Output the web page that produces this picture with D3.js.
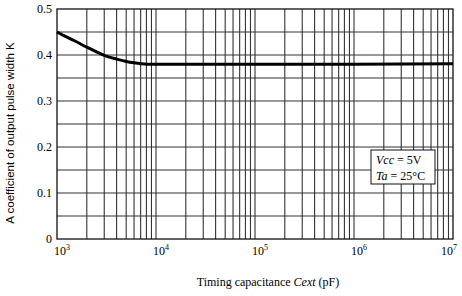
<!DOCTYPE html>
<html><head><meta charset="utf-8">
<script src="https://cdn.jsdelivr.net/npm/d3@7"></script>
<style>body{margin:0;background:#fff}svg{display:block}</style>
</head><body>
<svg id="c" width="462" height="296"></svg>
<script>
const capX = [1000, 1200, 1500, 2000, 2500, 3000, 4000, 5000, 6000, 7000, 8000, 10000, 100000, 1000000, 10000000];
const kY   = [0.45, 0.441, 0.431, 0.417, 0.407, 0.399, 0.391, 0.386, 0.383, 0.381, 0.380, 0.380, 0.380, 0.380, 0.381];
const xTicks = [1e3, 1e4, 1e5, 1e6, 1e7];
const xTickExp = ["3", "4", "5", "6", "7"];
const yTicks = [0, 0.1, 0.2, 0.3, 0.4, 0.5];
const yTickLabels = ["0", "0.1", "0.2", "0.3", "0.4", "0.5"];
const yGrid = [0.05, 0.1, 0.15, 0.2, 0.25, 0.3, 0.35, 0.4, 0.45];

const svg = d3.select("#c");
const L = 57, R = 453, T = 9, B = 239;
const x = d3.scaleLog().domain([1e3, 1e7]).range([L, R]);
const y = d3.scaleLinear().domain([0, 0.5]).range([B, T]);
const serif = "'Liberation Serif', 'DejaVu Serif', serif";

// vertical grid
const vgrid = [];
for (let d = 3; d < 7; d++) for (let m = 2; m <= 9; m++) vgrid.push(m * Math.pow(10, d));
for (let d = 4; d < 7; d++) vgrid.push(Math.pow(10, d));
svg.append("g").selectAll("line").data(vgrid).join("line")
  .attr("x1", d => x(d)).attr("x2", d => x(d)).attr("y1", T).attr("y2", B)
  .attr("stroke", "#333").attr("stroke-width", 1.1);
svg.append("g").selectAll("line").data(yGrid).join("line")
  .attr("x1", L).attr("x2", R).attr("y1", d => y(d)).attr("y2", d => y(d))
  .attr("stroke", "#333").attr("stroke-width", 1.1);

// frame
svg.append("rect").attr("x", L).attr("y", T).attr("width", R - L).attr("height", B - T)
  .attr("fill", "none").attr("stroke", "#111").attr("stroke-width", 1.3);

// curve
svg.append("path").datum(capX.map((c, i) => [c, kY[i]]))
  .attr("d", d3.line().x(d => x(d[0])).y(d => y(d[1])).curve(d3.curveMonotoneX))
  .attr("fill", "none").attr("stroke", "#000").attr("stroke-width", 3);

// y tick labels
svg.append("g").selectAll("text").data(yTicks).join("text")
  .attr("x", L - 5).attr("y", d => y(d) + 4).attr("text-anchor", "end")
  .attr("font-family", serif).attr("font-size", 12).text((d, i) => yTickLabels[i]);

// x tick labels
svg.append("g").selectAll("text").data(xTicks).join("text")
  .attr("x", d => Math.min(x(d) + 5, 449)).attr("y", B + 16).attr("text-anchor", "middle")
  .attr("font-family", serif).attr("font-size", 12)
  .each(function(d, i) {
    const t = d3.select(this);
    t.append("tspan").text("10");
    t.append("tspan").attr("dy", -5).attr("font-size", 8).text(xTickExp[i]);
  });

// axis titles
svg.append("text").attr("x", 268).attr("y", 286).attr("text-anchor", "middle")
  .attr("font-family", serif).attr("font-size", 12)
  .call(t => { t.append("tspan").text("Timing capacitance ");
               t.append("tspan").attr("font-style", "italic").text("Cext");
               t.append("tspan").text(" (pF)"); });
svg.append("text").attr("transform", "translate(14,133) rotate(-90)").attr("text-anchor", "middle")
  .attr("font-family", "'Liberation Sans', Arial, sans-serif").attr("font-size", 11.5)
  .text("A coefficient of output pulse width  K");

// legend
const lg = svg.append("g");
lg.append("rect").attr("x", 371).attr("y", 150).attr("width", 64).attr("height", 34)
  .attr("fill", "#fff").attr("stroke", "#111").attr("stroke-width", 1);
const lt1 = lg.append("text").attr("x", 376).attr("y", 164).attr("font-family", serif).attr("font-size", 12);
lt1.append("tspan").attr("font-style", "italic").text("Vcc");
lt1.append("tspan").text(" = 5V");
const lt2 = lg.append("text").attr("x", 376).attr("y", 180).attr("font-family", serif).attr("font-size", 12);
lt2.append("tspan").attr("font-style", "italic").text("Ta");
lt2.append("tspan").text(" = 25°C");
</script>
</body></html>
